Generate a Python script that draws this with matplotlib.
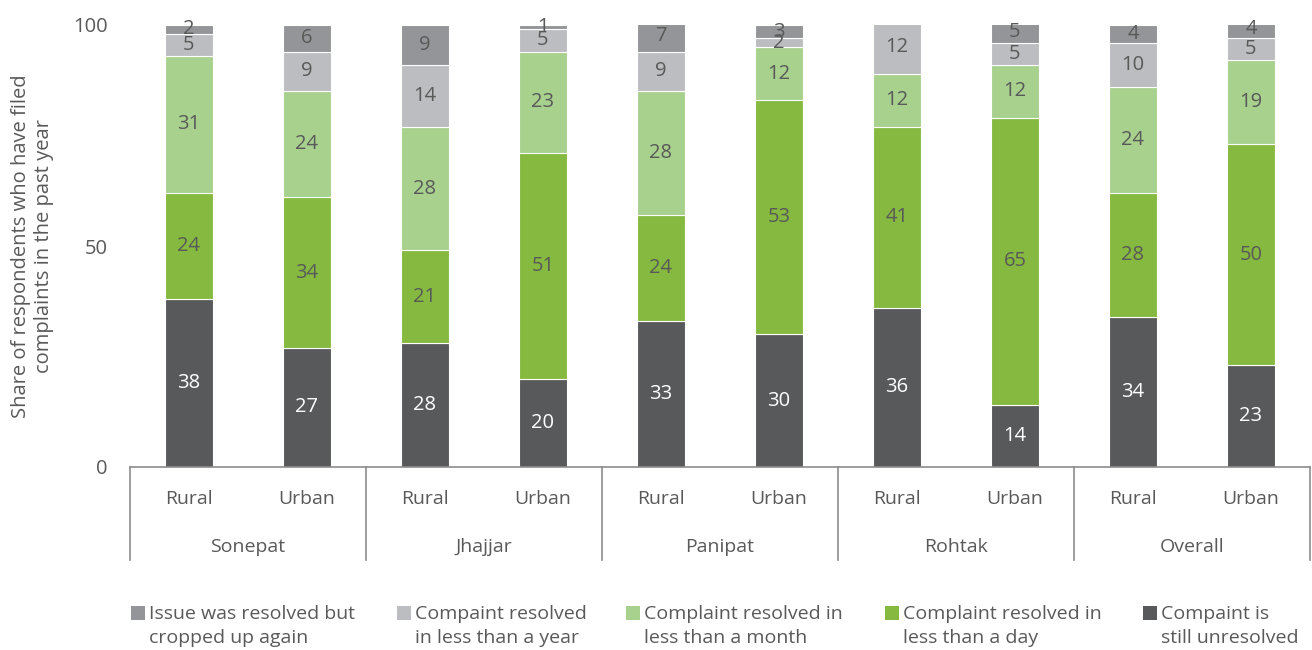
import numpy as np
import matplotlib
matplotlib.use("Agg")
import matplotlib.pyplot as plt
from matplotlib.lines import Line2D
from matplotlib.patches import Rectangle

plt.rcParams["font.family"] = ["Open Sans", "DejaVu Sans"]

# Data
districts = ["Sonepat", "Jhajjar", "Panipat", "Rohtak", "Overall"]
areas = ["Rural", "Urban"]

unresolved  = [38, 27, 28, 20, 33, 30, 36, 14, 34, 23]
within_day  = [24, 34, 21, 51, 24, 53, 41, 65, 28, 50]
within_month = [31, 24, 28, 23, 28, 12, 12, 12, 24, 19]
within_year = [5, 9, 14, 5, 9, 2, 12, 5, 10, 5]
cropped_up  = [2, 6, 9, 1, 7, 3, 0, 5, 4, 4]

series = [
    ("Compaint is\nstill unresolved", unresolved, "#58595B", "white"),
    ("Complaint resolved in\nless than a day", within_day, "#86B93F", "#595959"),
    ("Complaint resolved in\nless than a month", within_month, "#A9D18E", "#595959"),
    ("Compaint resolved\nin less than a year", within_year, "#BCBDC0", "#595959"),
    ("Issue was resolved but\ncropped up again", cropped_up, "#939598", "#595959"),
]

TXT = "#595959"
W, H = 1312, 650

fig = plt.figure(figsize=(W / 100, H / 100), dpi=100)
ax = fig.add_axes([130 / W, 1 - 467 / H, 1180 / W, 442 / H])

x = np.arange(len(unresolved))
bottom = np.zeros(len(x))
for name, vals, color, tcol in series:
    vals = np.array(vals, dtype=float)
    ax.bar(x, vals, bottom=bottom, width=0.4, color=color,
           edgecolor="white", linewidth=0.8, label=name)
    for xi, b, v in zip(x, bottom, vals):
        if v > 0:
            ax.text(xi, b + v / 2, f"{int(v)}", ha="center", va="center",
                    fontsize=14.5, color=tcol)
    bottom += vals

ax.set_xlim(-0.5, len(x) - 0.5)
ax.set_ylim(0, 100)
ax.set_yticks([0, 50, 100])
ax.tick_params(axis="y", length=0, labelsize=14.5, labelcolor=TXT, pad=16)
ax.set_xticks([])
for s in ["top", "right", "left"]:
    ax.spines[s].set_visible(False)
ax.spines["bottom"].set_color("#8C8C8C")
ax.spines["bottom"].set_linewidth(1.2)

ax.set_ylabel("Share of respondents who have filed\ncomplaints in the past year",
              fontsize=14.5, color=TXT, labelpad=14, linespacing=1.15)

# two-level category axis
trans = ax.get_xaxis_transform()
for xi in x:
    ax.text(xi, -0.072, areas[xi % 2], transform=trans, ha="center",
            va="center", fontsize=14, color=TXT)
for i, d in enumerate(districts):
    ax.text(2 * i + 0.5, -0.18, d, transform=trans, ha="center",
            va="center", fontsize=14, color=TXT)
for b in np.arange(-0.5, len(x), 2):
    ax.add_line(Line2D([b, b], [0, -0.21], transform=trans, color="#8C8C8C",
                       linewidth=1.2, clip_on=False))

# legend row along the bottom, top segment first
legend_x = [131, 397, 626, 885, 1143]
for lx, (name, _, color, _) in zip(legend_x, series[::-1]):
    fig.patches.append(Rectangle((lx / W, 1 - 620 / H), 14 / W, 14 / H,
                                 transform=fig.transFigure, facecolor=color,
                                 edgecolor="none"))
    fig.text((lx + 18) / W, 1 - 605 / H, name, ha="left", va="top",
             fontsize=14, color=TXT, linespacing=1.45)

fig.savefig("out.png", dpi=100)
